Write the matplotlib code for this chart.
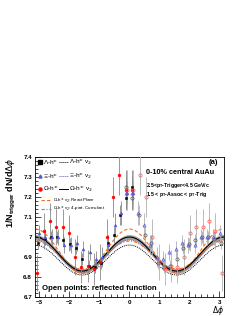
import numpy as np
import matplotlib
matplotlib.use("Agg")
import matplotlib.pyplot as plt
from matplotlib.ticker import MultipleLocator, FormatStrFormatter

plt.rcParams['font.family'] = ['Liberation Sans', 'DejaVu Sans']

# measured (filled) points, left half; open points are the same values reflected (dphi -> -dphi)
lam_phi = [-3.04, -2.83, -2.62, -2.41, -2.20, -1.99, -1.78, -1.57, -1.36, -1.15, -0.94, -0.73, -0.52, -0.31, -0.10, 0.10]
lam_val = [6.97, 6.99, 7.00, 7.00, 6.985, 6.965, 6.945, 6.89, 6.855, 6.85, 6.87, 6.97, 7.01, 7.11, 7.195, 7.25]
lam_err = [0.03, 0.03, 0.03, 0.03, 0.03, 0.03, 0.03, 0.03, 0.03, 0.03, 0.03, 0.04, 0.04, 0.05, 0.05, 0.05]

xi_phi = [-3.01, -2.80, -2.59, -2.38, -2.17, -1.96, -1.75, -1.54, -1.33, -1.12, -0.91, -0.70, -0.49, -0.28, -0.07, 0.13]
xi_val = [7.02, 7.00, 7.00, 7.00, 6.96, 6.96, 6.97, 6.94, 6.925, 6.89, 6.90, 6.96, 7.06, 7.12, 7.22, 7.22]
xi_err = [0.04, 0.04, 0.04, 0.04, 0.04, 0.04, 0.04, 0.04, 0.04, 0.04, 0.05, 0.05, 0.06, 0.06, 0.06, 0.06]

om_phi = [-3.07, -2.86, -2.65, -2.44, -2.23, -2.02, -1.81, -1.60, -1.39, -1.18, -0.97, -0.76, -0.55, -0.34, -0.13, 0.07]
om_val = [6.82, 7.03, 7.08, 7.05, 7.05, 7.02, 6.90, 6.85, 6.855, 6.84, 6.875, 7.00, 7.20, 7.31, 7.235, 7.235]
om_err = [0.09, 0.09, 0.09, 0.09, 0.09, 0.09, 0.09, 0.08, 0.08, 0.08, 0.09, 0.09, 0.10, 0.10, 0.10, 0.10]

# v2-modulated backgrounds: [baseline, cos(2 dphi) amplitude]
om_v2 = [6.915, 0.085]
om_v2_band = 0.012
lam_v2 = [6.885, 0.075]
xi_v2 = [6.905, 0.080]
rp_v2 = [6.93, 0.11]
cum_v2 = [6.91, 0.07]

fig = plt.figure(figsize=(2.44, 3.16), dpi=100)
ax = fig.add_axes([0.143, 0.060, 0.775, 0.443])

grid = np.linspace(-np.pi, np.pi, 300)
def bkg(p):
    return p[0] + p[1] * np.cos(2 * grid)

orange = "#ff6a10"
blue = "#5555dd"
ax.fill_between(grid, bkg(om_v2) - om_v2_band, bkg(om_v2) + om_v2_band, color="#a0a0a0", lw=0, zorder=1)
ax.plot(grid, bkg(lam_v2), color="black", ls=(0, (1, 1)), lw=0.7, zorder=2)
ax.plot(grid, bkg(xi_v2), color=blue, ls=(0, (1, 1)), lw=0.7, zorder=2)
ax.plot(grid, bkg(rp_v2), color=orange, ls=(0, (3, 2)), lw=0.8, zorder=2)
ax.plot(grid, bkg(cum_v2), color=orange, ls=(0, (3, 1.5, 1, 1.5)), lw=0.8, zorder=2)
ax.plot(grid, bkg(om_v2), color="black", lw=0.8, zorder=3)

species = [
    (lam_phi, lam_val, lam_err, "black", "#555555", "s"),
    (xi_phi, xi_val, xi_err, blue, blue, "^"),
    (om_phi, om_val, om_err, "red", "#ff5050", "o"),
]
for phi, val, err, col, ocol, mk in species:
    phi = np.array(phi)
    ax.errorbar(phi, val, yerr=err, fmt=mk, color=col, ms=2.0, mew=0.4,
                ecolor="#888888", elinewidth=0.6, capsize=0, zorder=4)
    ax.errorbar(-phi, val, yerr=err, fmt="o" if mk != "^" else "^", mfc="none", mec=ocol,
                ms=2.3, mew=0.5, ecolor="#b0b0b0", elinewidth=0.6, capsize=0, zorder=4)

ax.set_xlim(-np.pi - 0.01, np.pi + 0.01)
ax.set_ylim(6.7, 7.4)
ax.xaxis.set_major_locator(MultipleLocator(1))
ax.xaxis.set_minor_locator(MultipleLocator(0.2))
ax.yaxis.set_major_locator(MultipleLocator(0.1))
ax.yaxis.set_minor_locator(MultipleLocator(0.02))
ax.yaxis.set_major_formatter(FormatStrFormatter("%g"))
ax.tick_params(which="both", direction="in", labelsize=4.5, width=0.5, pad=2)
ax.tick_params(which="major", length=4)
ax.tick_params(which="minor", length=2)
for lab in ax.get_xticklabels() + ax.get_yticklabels():
    lab.set_fontweight("bold")
for s in ax.spines.values():
    s.set_linewidth(0.6)

ax.set_ylabel(r"1/N$_{\mathregular{trigger}}$ dN/d$\Delta\phi$", loc="top", fontsize=6.5, fontweight="bold", labelpad=4)
ax.text(1.0, -0.095, r"$\Delta\phi$", transform=ax.transAxes, fontsize=5.5, ha="right", va="center")

# legend (drawn by hand, ROOT-style rows)
tr = ax.transAxes
rows = [(0.962, "black", "s", (0, (1, 1)), "Λ-h$^{\\pm}$", "Λ-h$^{\\pm}$ v$_2$"),
        (0.862, blue, "^", (0, (1, 1)), "Ξ-h$^{\\pm}$", "Ξ-h$^{\\pm}$ v$_2$"),
        (0.772, "red", "o", "-", "Ω-h$^{\\pm}$", "Ω-h$^{\\pm}$ v$_2$")]
for y, col, mk, ls, t1, t2 in rows:
    ax.plot([0.026], [y], marker=mk, color=col, ms=2.2, transform=tr, clip_on=False)
    ax.text(0.045, y, t1, transform=tr, fontsize=4.6, va="center")
    lc = "black" if col == "red" else col
    ax.plot([0.13, 0.175], [y, y], color=lc, ls=ls, lw=0.7, transform=tr)
    ax.text(0.18, y, t2, transform=tr, fontsize=4.6, va="center")
ax.plot([0.03, 0.085], [0.69, 0.69], color=orange, ls=(0, (3, 2)), lw=0.8, transform=tr)
ax.text(0.095, 0.69, "Ω-h$^{\\pm}$ v$_2$: ReactPlane", transform=tr, fontsize=3.2, va="center")
ax.plot([0.03, 0.085], [0.632, 0.632], color=orange, ls=(0, (3, 1.5, 1, 1.5)), lw=0.8, transform=tr)
ax.text(0.095, 0.632, "Ω-h$^{\\pm}$ v$_2$: 4-part. Cumulant", transform=tr, fontsize=3.2, va="center")

ax.text(0.97, 0.962, "(a)", transform=tr, fontsize=5.5, ha="right", va="center", fontweight="bold")
ax.text(0.59, 0.89, "0-10% central AuAu", transform=tr, fontsize=5.2, va="center", fontweight="bold")
ax.text(0.59, 0.80, r"2.5<p$_\mathregular{T}$-Trigger<4.5 GeV/c", transform=tr, fontsize=3.8, va="center", fontweight="bold")
ax.text(0.59, 0.73, r"1.5 < p$_\mathregular{T}$-Assoc < p$_\mathregular{T}$-Trig", transform=tr, fontsize=3.8, va="center", fontweight="bold")
ax.text(0.037, 0.064, "Open points: reflected function", transform=tr, fontsize=5.6, va="center", fontweight="bold")

fig.savefig("out.png", dpi=100)
